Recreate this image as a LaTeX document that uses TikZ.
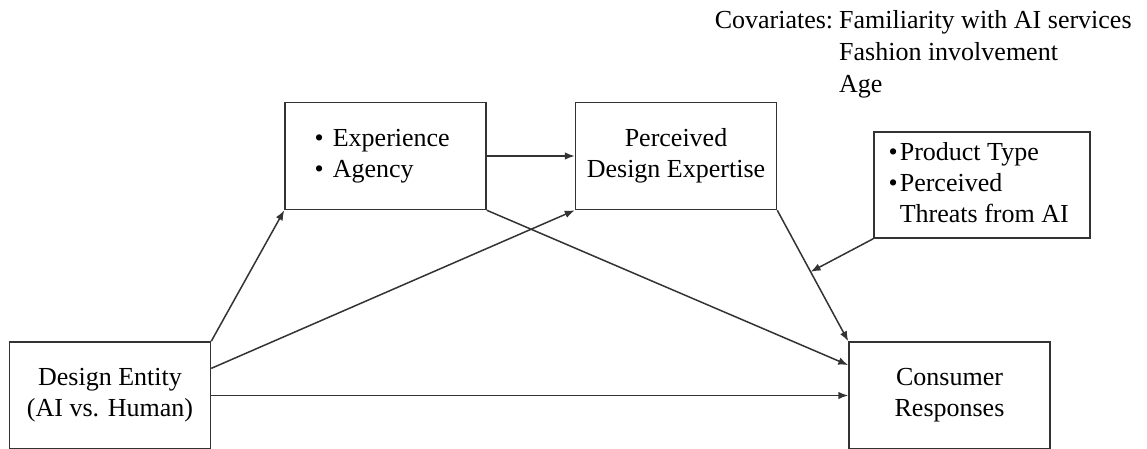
\documentclass[tikz,border=0pt]{standalone}
\usepackage{fontspec}
\setmainfont{Liberation Serif}
\usetikzlibrary{arrows.meta, positioning, calc}

\begin{document}
\begin{tikzpicture}[
    x=0.5pt, y=-0.5pt,
    construct/.style={
        rectangle,
        draw=black!80,
        line width=0.75pt,
        minimum width=100.5pt,
        minimum height=53.5pt,
        inner sep=0pt,
        align=center,
        font=\fontsize{13}{15.5}\selectfont
    },
    moderator/.style={
        construct,
        minimum width=108pt,
        minimum height=53pt
    },
    note_text/.style={
        inner sep=0pt,
        font=\fontsize{13}{16}\selectfont
    },
    path_arrow/.style={
        -{Latex[length=5pt,width=3.8pt]},
        line width=0.75pt,
        draw=black!80
    }
]

\useasboundingbox (0,0) rectangle (1147,449);

% Independent variable
\node[construct] (entity) at (110,395.5) {
    Design Entity \\
    (AI vs. Human)
};

% Mediators
\node[construct, above right=65.5pt and 36.5pt of entity.north east] (mind) {
    \begin{tabular}{@{}l@{\hspace{4.5pt}}l@{}}
    \textbullet & Experience \\
    \textbullet & Agency
    \end{tabular}
};

\node[construct, right=44pt of mind] (expertise) {
    Perceived \\
    Design Expertise
};

% Dependent variable
\node[construct, right=318.5pt of entity] (response) {
    Consumer \\
    Responses
};

% Moderators
\node[moderator] (moderator) at (982,185) {
    \begin{tabular}{@{}l@{\hspace{1pt}}l@{}}
    \textbullet & Product Type \\
    \textbullet & Perceived \\
     & Threats from AI
    \end{tabular}
};

% Covariates
\node[note_text, anchor=north east] (covariates) at (1132,6) {
    \begin{tabular}{@{}l@{\hspace{3pt}}l@{}}
    Covariates: & Familiarity with AI services \\
     & Fashion involvement \\
     & Age
    \end{tabular}
};

\coordinate (modpoint) at ($(expertise.south east)!0.47!(response.north west)$);

% Paths
\draw[path_arrow] (entity.north east) -- (mind.south west);
\draw[path_arrow] ($(entity.north east)!0.25!(entity.south east)$) -- (expertise.south west);
\draw[path_arrow] (entity.east) -- (response.west);

\draw[path_arrow] (mind.east) -- (expertise.west);
\draw[path_arrow] (mind.south east) -- ($(response.north west)!0.22!(response.south west)$);

\draw[path_arrow] (expertise.south east) -- (response.north west);
\draw[path_arrow] (moderator.south west) -- (modpoint);

\end{tikzpicture}
\end{document}
